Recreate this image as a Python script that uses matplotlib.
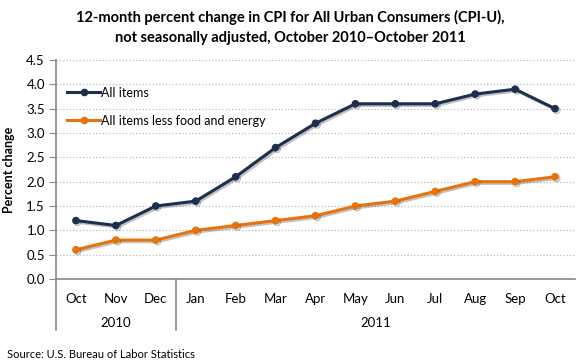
import matplotlib.pyplot as plt
import matplotlib.patheffects as pe
import numpy as np

months = ['Oct', 'Nov', 'Dec', 'Jan', 'Feb', 'Mar', 'Apr', 'May', 'Jun', 'Jul', 'Aug', 'Sep', 'Oct']
years = ['2010', '2011']
all_items = [1.2, 1.1, 1.5, 1.6, 2.1, 2.7, 3.2, 3.6, 3.6, 3.6, 3.8, 3.9, 3.5]
core = [0.6, 0.8, 0.8, 1.0, 1.1, 1.2, 1.3, 1.5, 1.6, 1.8, 2.0, 2.0, 2.1]

plt.rcParams['font.family'] = ['Lato', 'DejaVu Sans']

fig = plt.figure(figsize=(5.8, 3.63), dpi=100)
ax = fig.add_axes([56/580, 84/363, 519/580, 219/363])

x = np.arange(len(months))
shadow = [pe.SimpleLineShadow(offset=(1.2, -1.2), shadow_color='#333333', alpha=0.3), pe.Normal()]

ax.plot(x, all_items, color='#1c2f4f', linewidth=2.2, marker='o', markersize=4.5,
        label='All items', path_effects=shadow, zorder=3)
ax.plot(x, core, color='#e8720c', linewidth=2.2, marker='o', markersize=4.5,
        label='All items less food and energy', path_effects=shadow, zorder=3)

ax.set_xlim(-0.5, len(months) - 0.5)
ax.set_ylim(0, 4.5)
ax.set_yticks(np.arange(0, 4.51, 0.5))
ax.set_yticklabels(['%.1f' % v for v in np.arange(0, 4.51, 0.5)], fontsize=9.5)
ax.yaxis.grid(True, linestyle=':', color='#bbbbbb', linewidth=0.9)
ax.set_axisbelow(True)

for s in ['top', 'right']:
    ax.spines[s].set_visible(False)
ax.spines['left'].set_color('#888888')
ax.spines['bottom'].set_color('#888888')
ax.spines['left'].set_linewidth(1.2)
ax.spines['bottom'].set_linewidth(1.2)
ax.tick_params(axis='y', length=5, color='#888888', pad=3)

# month labels and year groups
ax.set_xticks(x)
ax.set_xticklabels(months, fontsize=9.5)
ax.tick_params(axis='x', length=0, pad=10)

trans = ax.get_xaxis_transform()
for xv in [-0.5, 2.5]:
    ax.plot([xv, xv], [0, -0.235], transform=trans, color='#888888', linewidth=1.2, clip_on=False)
ax.text(1, -0.2, years[0], transform=trans, ha='center', va='center', fontsize=9.5)
ax.text(7.5, -0.2, years[1], transform=trans, ha='center', va='center', fontsize=9.5)

ax.set_ylabel('Percent change', fontsize=9, fontweight='bold', labelpad=8)

leg = ax.legend(loc='upper left', bbox_to_anchor=(0.0, 0.93), frameon=False, fontsize=9,
                handlelength=2.6, handletextpad=0.1, labelspacing=1.3)
for h in leg.legend_handles:
    h.set_path_effects([])

fig.text(0.5, 0.925, '12-month percent change in CPI for All Urban Consumers (CPI-U),\n'
         'not seasonally adjusted, October 2010\u2013October 2011',
         ha='center', va='center', fontsize=10.5, fontweight='bold', linespacing=1.5)
fig.text(7/580, 1 - 354/363, 'Source: U.S. Bureau of Labor Statistics', fontsize=8, va='center')

fig.savefig('out.png', dpi=100)
